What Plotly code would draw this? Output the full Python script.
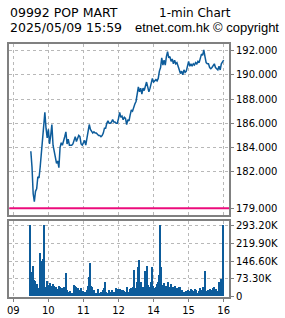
import plotly.graph_objects as go

# ---- data ----
title_left = "09992 POP MART"
title_right = "1-min Chart"
stamp = "2025/05/09 15:59"
credit = "etnet.com.hk \u00a9 copyright"

# minutes from 09:00 with lunch break removed (12 tick = 13:00)
hour_ticks = [0, 60, 120, 180, 240, 300, 360]
hour_labels = ["09", "10", "11", "12", "14", "15", "16"]

prev_close = 179.0
price_ticks = [179, 182, 184, 186, 188, 190, 192]
vol_ticks = [0, 73.3, 146.6, 219.9, 293.2]
vol_labels = ["0", "73.30K", "146.60K", "219.90K", "293.20K"]

prices = [
    183.7, 182.4, 180.2, 179.55, 180.4, 180.6, 181.6, 181.5, 182.4, 183.5,
    184.8, 185.5, 186.9, 185.6, 184.8, 185.5, 184.3, 185.0, 185.9, 184.2,
    183.6, 183.2, 182.7, 182.9, 182.35, 184.0, 184.4, 184.2, 184.5, 184.9,
    185.3, 184.3, 184.7, 184.2, 184.2, 184.2, 184.3, 184.6, 184.9, 184.5,
    184.8, 185.0, 184.9, 184.3, 184.2, 184.5, 184.6, 184.2, 184.7, 185.3,
    185.9, 185.5, 185.3, 185.2, 185.3, 185.2, 185.2, 185.1, 185.0, 185.0,
    184.9, 185.0, 185.2, 185.6, 185.6, 186.0, 186.2, 186.0, 186.0, 186.1,
    186.3, 186.1, 186.1, 186.0, 186.0, 186.4, 186.9, 186.5, 186.6, 186.3,
    186.5, 186.4, 185.9, 186.3, 186.2, 186.7, 187.1, 187.0, 187.4, 187.6,
    187.8, 188.3, 189.0, 188.6, 188.9, 188.4, 188.9, 188.7, 189.0, 189.4,
    189.0, 188.6, 188.9, 189.3, 189.7, 189.4, 189.5, 189.6, 189.5, 189.7,
    190.3, 190.6, 191.4, 190.8, 191.2, 190.8, 191.5, 191.9, 191.4, 191.5,
    191.1, 191.3, 190.9, 191.2, 190.9, 191.0, 190.7, 190.4, 190.1, 190.3,
    190.0, 190.4, 190.2, 190.3, 190.6, 191.1, 190.7, 190.9, 190.7, 190.9,
    190.8, 191.0, 190.9, 191.1, 191.0, 191.3, 191.7, 191.6, 192.05, 191.5,
    191.0, 190.9, 190.9, 190.6, 190.5, 190.6, 190.8, 190.9, 190.6, 190.5,
    190.4, 190.7, 190.4, 190.9, 191.1, 191.2,
]

volumes_k = [
    293.2, 99, 124, 68, 65, 50, 50, 34, 178, 147,
    126, 156, 293.2, 38, 65, 36, 48, 55, 44, 52,
    44, 36, 40, 32, 44, 38, 30, 36, 28, 40,
    97, 28, 20, 18, 22, 16, 15, 48, 44, 38,
    22, 36, 28, 36, 20, 24, 17, 20, 26, 45,
    80, 137, 44, 38, 26, 16, 15, 14, 30, 16,
    20, 15, 26, 34, 60, 20, 15, 28, 18, 14,
    26, 20, 20, 36, 32, 30, 31, 30, 26, 28,
    22, 16, 20, 38, 20, 30, 36, 36, 40, 110,
    36, 60, 120, 151, 36, 60, 40, 40, 106, 60,
    126, 48, 40, 60, 120, 45, 36, 40, 50, 60,
    90, 293.2, 120, 48, 55, 40, 44, 28, 60, 40,
    52, 36, 40, 36, 44, 36, 28, 40, 40, 24,
    28, 18, 16, 24, 20, 28, 22, 30, 25, 20,
    22, 30, 25, 16, 24, 36, 25, 28, 40, 106,
    20, 24, 28, 20, 30, 28, 34, 40, 30, 30,
    24, 60, 25, 72, 20, 293.2,
]

times = list(range(30, 361, 2))

# ---- style ----
W, H = 285, 318
BLUE = "#0d5c9b"
PINK = "#ec0c7c"
FRAME = "#808080"
GRID = "#b8b8b8"
FONT = "DejaVu Sans"
FONT2 = "Liberation Sans"

def px_x(p):
    return p / W

def px_y(p):
    return 1 - p / H

fig = go.Figure()
fig.add_trace(go.Scatter(x=times, y=prices, mode="lines",
                         line=dict(color=BLUE, width=1.5), xaxis="x", yaxis="y",
                         hoverinfo="skip"))
fig.add_trace(go.Bar(x=times, y=volumes_k, width=2, marker=dict(color=BLUE, line=dict(width=0)),
                     xaxis="x2", yaxis="y2", hoverinfo="skip"))

fig.add_shape(type="line", xref="x domain", yref="y", x0=0, x1=1,
              y0=prev_close, y1=prev_close, line=dict(color=PINK, width=2))

xdom = [px_x(9.3), px_x(229.0)]
xrange_ = [-6.84, 369.1]

common_x = dict(domain=xdom, range=xrange_, tickvals=hour_ticks, ticktext=hour_labels,
                showgrid=True, gridcolor=GRID, griddash="3px,3px", gridwidth=1,
                showline=True, linecolor=FRAME, linewidth=2, mirror=True,
                zeroline=False, fixedrange=True, automargin=False)

fig.update_layout(
    width=W, height=H,
    margin=dict(l=0, r=0, t=0, b=0, autoexpand=False),
    paper_bgcolor="white", plot_bgcolor="white",
    showlegend=False,
    bargap=0,
    font=dict(family=FONT, size=10, color="black"),
    xaxis=dict(**common_x, anchor="y", showticklabels=False, ticks=""),
    xaxis2=dict(**common_x, anchor="y2", showticklabels=True, ticks="outside",
                ticklen=3, tickcolor=FRAME, tickfont=dict(size=10)),
    yaxis=dict(domain=[px_y(214.5), px_y(43.7)], range=[178.49, 192.56], side="right",
               tickvals=price_ticks, ticktext=[f"{v:.3f}" for v in price_ticks],
               ticks="outside", ticklen=3, tickcolor=FRAME,
               showgrid=True, gridcolor=GRID, griddash="3px,3px", gridwidth=1,
               showline=True, linecolor=FRAME, linewidth=2, mirror=True,
               zeroline=False, anchor="x", fixedrange=True, automargin=False),
    yaxis2=dict(domain=[px_y(296.7), px_y(221.3)], range=[0, 311.4], side="right",
                tickvals=vol_ticks, ticktext=vol_labels,
                ticks="outside", ticklen=3, tickcolor=FRAME,
                showgrid=True, gridcolor=GRID, griddash="3px,3px", gridwidth=1,
                showline=True, linecolor=FRAME, linewidth=2, mirror=True,
                zeroline=False, anchor="x2", fixedrange=True, automargin=False),
)

fig.add_annotation(text=title_left, xref="paper", yref="paper", x=px_x(8), y=px_y(12.5),
                   xanchor="left", yanchor="middle", showarrow=False,
                   font=dict(family=FONT, size=12.5, color="black"))
fig.add_annotation(text=title_right, xref="paper", yref="paper", x=px_x(157), y=px_y(12.5),
                   xanchor="left", yanchor="middle", showarrow=False,
                   font=dict(family=FONT, size=12, color="black"))
fig.add_annotation(text=stamp, xref="paper", yref="paper", x=px_x(8), y=px_y(28),
                   xanchor="left", yanchor="middle", showarrow=False,
                   font=dict(family=FONT, size=12.5, color="black"))
fig.add_annotation(text=credit, xref="paper", yref="paper", x=px_x(281), y=px_y(28),
                   xanchor="right", yanchor="middle", showarrow=False,
                   font=dict(family=FONT2, size=13, color="black"))

fig.write_html("out.html", config={"displayModeBar": False})
